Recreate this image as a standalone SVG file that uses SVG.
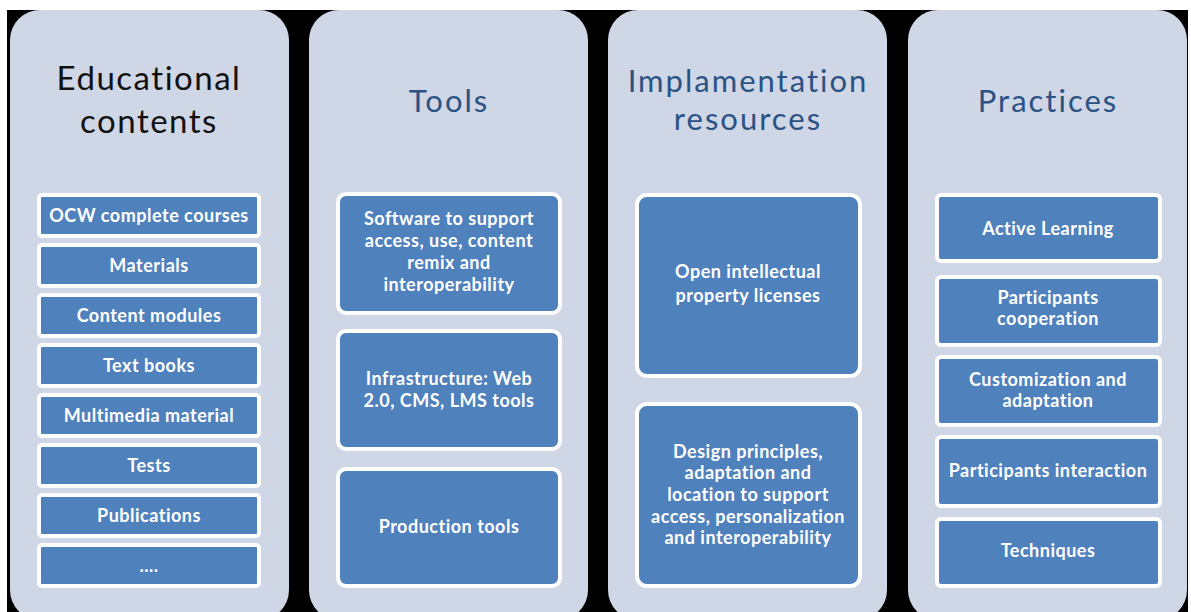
<svg xmlns="http://www.w3.org/2000/svg" width="1191" height="612" viewBox="0 0 1191 612">
<style>
.panel{fill:#cfd6e5;}
.box{fill:#4f81bd;stroke:#ffffff;stroke-width:4;}
.bt{font-family:Lato,"Open Sans",sans-serif;font-weight:bold;font-size:18px;letter-spacing:0.5px;fill:#ffffff;text-anchor:middle;}
.t1{font-family:Lato,"Open Sans",sans-serif;font-size:33px;letter-spacing:1.5px;fill:#111111;text-anchor:middle;}
.t2{font-family:Lato,"Open Sans",sans-serif;font-size:31px;letter-spacing:2px;fill:#2a5284;text-anchor:middle;}
</style>
<rect x="0" y="0" width="1191" height="612" fill="#ffffff"/>
<rect x="7" y="10" width="1181" height="602" fill="#000000"/>

<g id="col-educational">
<rect class="panel" x="10" y="10" width="279" height="610" rx="30"/>
<text class="t1" x="149" y="90">Educational</text>
<text class="t1" x="149" y="133">contents</text>
</g>
<g id="col-tools">
<rect class="panel" x="309" y="10" width="279" height="610" rx="30"/>
<text class="t2" x="449" y="112">Tools</text>
</g>
<g id="col-implementation">
<rect class="panel" x="608" y="10" width="279" height="610" rx="30"/>
<text class="t2" x="748" y="92">Implamentation</text>
<text class="t2" x="748" y="130">resources</text>
</g>
<g id="col-practices">
<rect class="panel" x="908" y="10" width="279" height="610" rx="30"/>
<text class="t2" x="1048" y="112">Practices</text>
</g>

<g id="n-ocw"><rect class="box" x="39" y="195" width="220" height="41" rx="3"/><text class="bt" x="149" y="222">OCW complete courses</text></g>
<g id="n-materials"><rect class="box" x="39" y="245" width="220" height="41" rx="3"/><text class="bt" x="149" y="272">Materials</text></g>
<g id="n-modules"><rect class="box" x="39" y="295" width="220" height="41" rx="3"/><text class="bt" x="149" y="322">Content modules</text></g>
<g id="n-textbooks"><rect class="box" x="39" y="345" width="220" height="41" rx="3"/><text class="bt" x="149" y="372">Text books</text></g>
<g id="n-multimedia"><rect class="box" x="39" y="395" width="220" height="41" rx="3"/><text class="bt" x="149" y="422">Multimedia material</text></g>
<g id="n-tests"><rect class="box" x="39" y="445" width="220" height="41" rx="3"/><text class="bt" x="149" y="472">Tests</text></g>
<g id="n-publications"><rect class="box" x="39" y="495" width="220" height="41" rx="3"/><text class="bt" x="149" y="522">Publications</text></g>
<g id="n-more"><rect class="box" x="39" y="545" width="220" height="41" rx="3"/><text class="bt" x="149" y="572">....</text></g>

<g id="n-software"><rect class="box" x="338" y="194" width="222" height="119" rx="8"/>
<text class="bt" x="449" y="225">Software to support</text>
<text class="bt" x="449" y="247">access, use, content</text>
<text class="bt" x="449" y="269">remix and</text>
<text class="bt" x="449" y="291">interoperability</text></g>
<g id="n-infrastructure"><rect class="box" x="338" y="331" width="222" height="118" rx="8"/>
<text class="bt" x="449" y="385">Infrastructure: Web</text>
<text class="bt" x="449" y="407">2.0, CMS, LMS tools</text></g>
<g id="n-production"><rect class="box" x="338" y="469" width="222" height="117" rx="8"/>
<text class="bt" x="449" y="533">Production tools</text></g>

<g id="n-licenses"><rect class="box" x="637" y="195" width="223" height="181" rx="10"/>
<text class="bt" x="748" y="278">Open intellectual</text>
<text class="bt" x="748" y="302">property licenses</text></g>
<g id="n-design"><rect class="box" x="637" y="404" width="223" height="182" rx="10"/>
<text class="bt" x="748" y="458">Design principles,</text>
<text class="bt" x="748" y="479">adaptation and</text>
<text class="bt" x="748" y="501">location to support</text>
<text class="bt" x="748" y="523">access, personalization</text>
<text class="bt" x="748" y="544">and interoperability</text></g>

<g id="n-active"><rect class="box" x="937" y="195" width="223" height="66" rx="4"/><text class="bt" x="1048" y="235">Active Learning</text></g>
<g id="n-cooperation"><rect class="box" x="937" y="277" width="223" height="68" rx="4"/>
<text class="bt" x="1048" y="304">Participants</text>
<text class="bt" x="1048" y="325">cooperation</text></g>
<g id="n-customization"><rect class="box" x="937" y="357" width="223" height="68" rx="4"/>
<text class="bt" x="1048" y="386">Customization and</text>
<text class="bt" x="1048" y="407">adaptation</text></g>
<g id="n-interaction"><rect class="box" x="937" y="437" width="223" height="69" rx="4"/>
<text class="bt" x="1048" y="477">Participants interaction</text></g>
<g id="n-techniques"><rect class="box" x="937" y="519" width="223" height="67" rx="4"/>
<text class="bt" x="1048" y="557">Techniques</text></g>

<g id="connectors"></g>
</svg>
